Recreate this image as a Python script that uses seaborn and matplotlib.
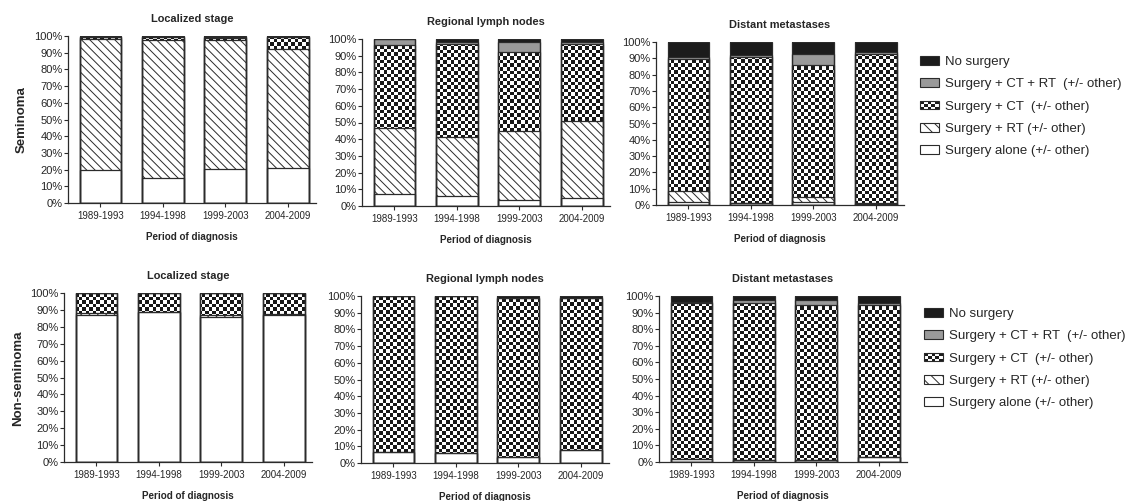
import numpy as np
import matplotlib
matplotlib.use("Agg")
import matplotlib.pyplot as plt
import seaborn as sns
from matplotlib.legend_handler import HandlerBase
from matplotlib.patches import Patch, Rectangle

# --- data: share of patients (%) per treatment, bottom to top of each bar ---
periods = ["1989-1993", "1994-1998", "1999-2003", "2004-2009"]
treatments = [
    "No surgery",
    "Surgery + CT + RT  (+/- other)",
    "Surgery + CT  (+/- other)",
    "Surgery + RT (+/- other)",
    "Surgery alone (+/- other)",
]

# Seminoma, localized stage
sem_loc_alone = [20, 15, 20.5, 21]
sem_loc_rt = [78, 82.5, 77, 71]
sem_loc_ct = [1.3, 2, 1.5, 7.5]
sem_loc_ctrt = [0.3, 0.2, 0.5, 0.2]
sem_loc_none = [0.4, 0.3, 0.5, 0.3]

# Seminoma, regional lymph nodes
sem_reg_alone = [7, 6, 3.5, 5]
sem_reg_rt = [40, 35.5, 41.5, 46]
sem_reg_ct = [49.5, 55.5, 47.5, 46]
sem_reg_ctrt = [3.5, 1, 6, 1.5]
sem_reg_none = [0, 2, 1.5, 1.5]

# Seminoma, distant metastases
sem_dis_alone = [2, 1, 2, 0.5]
sem_dis_rt = [6.5, 0.5, 3, 0.5]
sem_dis_ct = [81, 89.5, 81, 91.5]
sem_dis_ctrt = [1.5, 1, 6.5, 1.5]
sem_dis_none = [9, 8, 7.5, 6]

# Non-seminoma, localized stage
non_loc_alone = [87, 88.5, 86, 87]
non_loc_rt = [1, 0.5, 1, 0.7]
non_loc_ct = [12, 11, 13, 12.3]
non_loc_ctrt = [0, 0, 0, 0]
non_loc_none = [0, 0, 0, 0]

# Non-seminoma, regional lymph nodes
non_reg_alone = [6.5, 6, 3.5, 8]
non_reg_rt = [0, 0, 0, 0]
non_reg_ct = [93.5, 94, 95.5, 91]
non_reg_ctrt = [0, 0, 0, 0]
non_reg_none = [0, 0, 1, 1]

# Non-seminoma, distant metastases
non_dis_alone = [2, 1, 1, 3]
non_dis_rt = [0, 0, 0, 0]
non_dis_ct = [94, 95, 93.5, 91.5]
non_dis_ctrt = [0.5, 1.5, 3, 1.5]
non_dis_none = [3.5, 2.5, 2.5, 4]

# --- style ---
sns.set_style("ticks")
plt.rcParams["font.family"] = ["Liberation Sans", "DejaVu Sans"]
plt.rcParams["hatch.linewidth"] = 0.7

EDGE = "#2b2b2b"
BLACK = "#1c1c1c"
GRAY = "#9a9a9a"
RT_HATCH = "\\\\\\\\"
WIDTH = 0.67
XLIM = (-0.52, 3.45)
W, H = 1128, 501


def checker(ax, cell=3.5):
    # checkerboard texture the size of the axes, clipped later to the CT bars
    bbox = ax.get_window_extent()
    nx, ny = int(bbox.width / cell), int(bbox.height / cell)
    return (np.indices((ny, nx)).sum(axis=0) % 2).astype(float)


def draw_panel(ax, title, alone, rt, ct, ctrt, none):
    tops = np.cumsum([alone, rt, ct, ctrt, none], axis=0)
    faces = ["white", "white", "white", GRAY, BLACK]
    hatches = [None, RT_HATCH, None, None, None]

    # filled layers, top layer first so each lower layer sits on top of it
    ct_patches = []
    for i in range(4, -1, -1):
        n0 = len(ax.patches)
        sns.barplot(x=periods, y=tops[i], ax=ax, width=WIDTH, color=faces[i],
                    saturation=1, errorbar=None, linewidth=0, edgecolor=EDGE,
                    hatch=hatches[i])
        new = ax.patches[n0:]
        for p in new:
            p.set_zorder(2 + (4 - i))
        if i == 2:
            ct_patches = new

    tex = checker(ax)
    for p in ct_patches:
        im = ax.imshow(tex, extent=(*XLIM, 0, 100), cmap="gray_r", vmin=0, vmax=1.1,
                       interpolation="nearest", aspect="auto", zorder=4.5)
        im.set_clip_path(p)

    # outlines of every segment on top
    for i in range(5):
        n0 = len(ax.patches)
        sns.barplot(x=periods, y=tops[i], ax=ax, width=WIDTH, color=EDGE, fill=False,
                    errorbar=None, linewidth=0.9)
        for p in ax.patches[n0:]:
            p.set_zorder(7)

    ax.set_xlim(*XLIM)
    ax.set_ylim(0, 100)
    ax.set_yticks(range(0, 101, 10))
    ax.set_yticklabels([f"{v}%" for v in range(0, 101, 10)])
    ax.tick_params(axis="y", labelsize=8, length=3, width=0.8, color=EDGE, pad=1)
    ax.tick_params(axis="x", labelsize=7, length=3, width=0.8, color=EDGE, pad=3)
    for s in ["left", "bottom"]:
        ax.spines[s].set_color(EDGE)
        ax.spines[s].set_linewidth(0.9)
    sns.despine(ax=ax)
    ax.set_title(title, fontsize=7.9, fontweight="bold", pad=10)
    ax.set_xlabel("Period of diagnosis", fontsize=7.1, fontweight="bold", labelpad=8)
    ax.set_ylabel("")


class CheckerHandler(HandlerBase):
    def create_artists(self, legend, orig_handle, xdescent, ydescent, width, height,
                       fontsize, trans):
        x0, y0 = -xdescent, -ydescent
        arts = [Rectangle((x0, y0), width, height, facecolor="white", edgecolor="none",
                          transform=trans)]
        nx, ny = 5, 3
        for i in range(nx):
            for j in range(ny):
                if (i + j) % 2 == 0:
                    arts.append(Rectangle((x0 + i * width / nx, y0 + j * height / ny),
                                          width / nx, height / ny, facecolor=BLACK,
                                          edgecolor="none", transform=trans))
        arts.append(Rectangle((x0, y0), width, height, facecolor="none", edgecolor=EDGE,
                              lw=0.8, transform=trans))
        return arts


def add_legend(fig, x, y):
    handles = [
        Patch(facecolor=BLACK, edgecolor=EDGE, lw=0.8),
        Patch(facecolor=GRAY, edgecolor=EDGE, lw=0.8),
        Patch(facecolor="white", edgecolor=EDGE, lw=0.8),
        Patch(facecolor="white", edgecolor=EDGE, lw=0.8, hatch="\\\\\\"),
        Patch(facecolor="white", edgecolor=EDGE, lw=0.8),
    ]
    fig.legend(handles, treatments, loc="upper left", bbox_to_anchor=(x / W, 1 - y / H),
               frameon=False, fontsize=9.5, borderpad=0, borderaxespad=0,
               handlelength=1.45, handleheight=0.65, handletextpad=0.45,
               labelspacing=0.78, handler_map={handles[2]: CheckerHandler()})


fig = plt.figure(figsize=(W / 100, H / 100), dpi=100)


def add_axes(left, top, bottom, width=248):
    return fig.add_axes([left / W, 1 - bottom / H, width / W, (bottom - top) / H])


panels = [
    (add_axes(68, 36, 203), "Localized stage",
     sem_loc_alone, sem_loc_rt, sem_loc_ct, sem_loc_ctrt, sem_loc_none),
    (add_axes(362, 39, 206), "Regional lymph nodes",
     sem_reg_alone, sem_reg_rt, sem_reg_ct, sem_reg_ctrt, sem_reg_none),
    (add_axes(656, 42, 205), "Distant metastases",
     sem_dis_alone, sem_dis_rt, sem_dis_ct, sem_dis_ctrt, sem_dis_none),
    (add_axes(64, 293, 462), "Localized stage",
     non_loc_alone, non_loc_rt, non_loc_ct, non_loc_ctrt, non_loc_none),
    (add_axes(361, 296, 463), "Regional lymph nodes",
     non_reg_alone, non_reg_rt, non_reg_ct, non_reg_ctrt, non_reg_none),
    (add_axes(659, 296, 462), "Distant metastases",
     non_dis_alone, non_dis_rt, non_dis_ct, non_dis_ctrt, non_dis_none),
]
for ax, title, *layers in panels:
    draw_panel(ax, title, *layers)

fig.text(22 / W, 1 - 120 / H, "Seminoma", rotation=90, ha="center", va="center",
         fontsize=9.5, fontweight="bold")
fig.text(18 / W, 1 - 378 / H, "Non-seminoma", rotation=90, ha="center", va="center",
         fontsize=9.5, fontweight="bold")

add_legend(fig, 920, 56)
add_legend(fig, 924, 308)

fig.savefig("out.png", dpi=100)
